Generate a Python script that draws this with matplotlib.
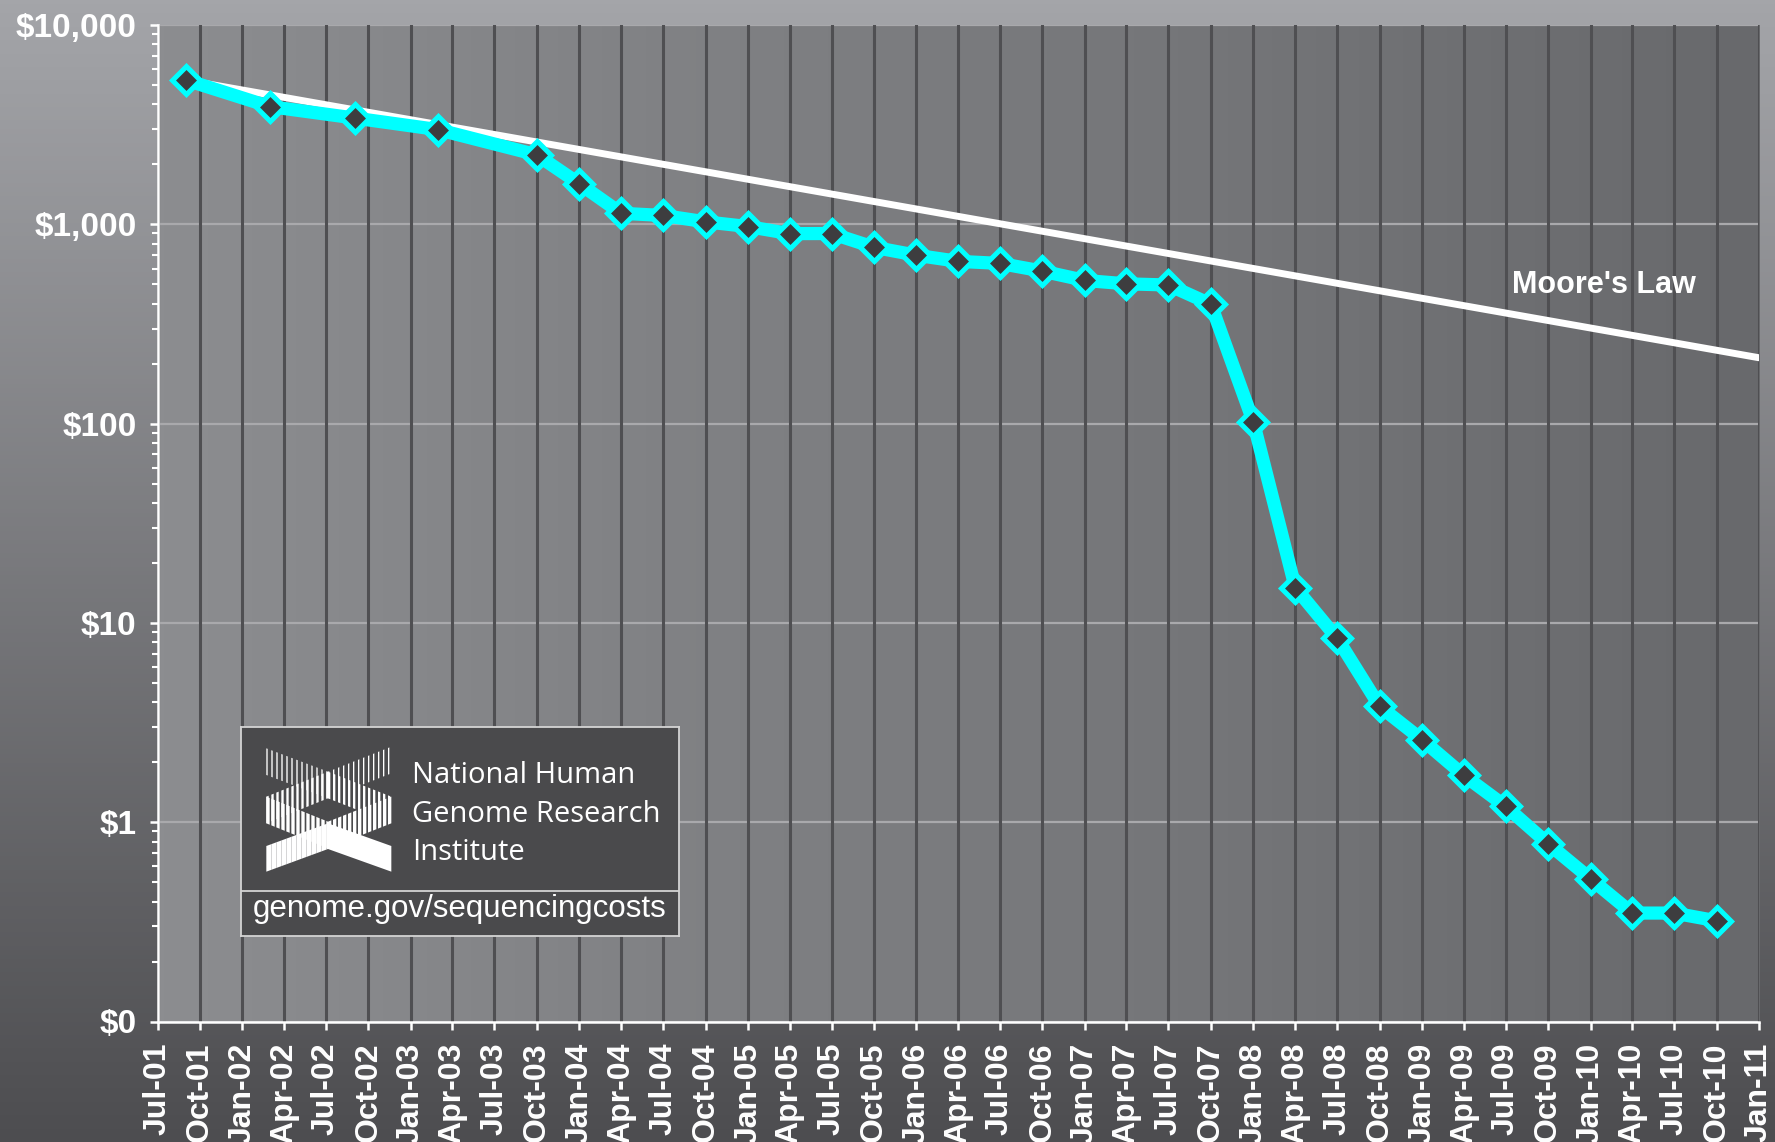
import matplotlib
matplotlib.use('Agg')
import matplotlib.pyplot as plt
import matplotlib.dates as mdates
from matplotlib.colors import LinearSegmentedColormap
from matplotlib.patches import Polygon
from matplotlib.ticker import FixedLocator, FixedFormatter, LogLocator, NullFormatter
import numpy as np
import pandas as pd

plt.rcParams['font.family'] = ['Liberation Sans', 'DejaVu Sans']
plt.rcParams['font.weight'] = 'bold'

# cost per megabase of DNA sequence (USD)
dates = pd.to_datetime([
    '2001-09-01', '2002-03-01', '2002-09-01', '2003-03-01', '2003-10-01',
    '2004-01-01', '2004-04-01', '2004-07-01', '2004-10-01',
    '2005-01-01', '2005-04-01', '2005-07-01', '2005-10-01',
    '2006-01-01', '2006-04-01', '2006-07-01', '2006-10-01',
    '2007-01-01', '2007-04-01', '2007-07-01', '2007-10-01',
    '2008-01-01', '2008-04-01', '2008-07-01', '2008-10-01',
    '2009-01-01', '2009-04-01', '2009-07-01', '2009-10-01',
    '2010-01-01', '2010-04-01', '2010-07-01', '2010-10-01',
])
cost = [5292.39, 3898.64, 3413.80, 2986.20, 2230.98,
        1598.91, 1135.70, 1107.46, 1028.85,
        974.16, 897.76, 898.90, 766.73,
        699.20, 651.81, 636.41, 581.92,
        522.71, 502.61, 495.96, 397.09,
        102.13, 15.03, 8.36, 3.81,
        2.59, 1.72, 1.20, 0.78,
        0.52, 0.35, 0.35, 0.32]

# Moore's law reference line (start and end)
moore_dates = pd.to_datetime(['2001-09-01', '2011-01-01'])
moore_cost = [5292.39, 214]

y_ticks = [0.1, 1, 10, 100, 1000, 10000]
y_labels = ['$0', '$1', '$10', '$100', '$1,000', '$10,000']

W, H = 1775, 1142
CYAN = '#00ffff'


def px_box(x0, y0, x1, y1):
    # pixel box (top-left origin) -> figure fraction rect
    return [x0 / W, 1 - y1 / H, (x1 - x0) / W, (y1 - y0) / H]


def main():
    fig = plt.figure(figsize=(W / 100, H / 100), dpi=100)

    # figure background gradient (top light -> bottom dark)
    bg = fig.add_axes([0, 0, 1, 1], zorder=-10)
    cm_bg = LinearSegmentedColormap.from_list('bg', ['#a4a5a9', '#4d4d50'])
    bg.imshow(np.linspace(0, 1, 256).reshape(-1, 1), cmap=cm_bg, aspect='auto',
              extent=[0, 1, 0, 1])
    bg.axis('off')

    rect = px_box(157.5, 25, 1759, 1021.5)

    # plot area gradient (left light -> right dark)
    pbg = fig.add_axes(rect, zorder=-5)
    cm_p = LinearSegmentedColormap.from_list('pa', ['#8c8d90', '#68696c'])
    pbg.imshow(np.linspace(0, 1, 256).reshape(1, -1), cmap=cm_p, aspect='auto',
               extent=[0, 1, 0, 1])
    pbg.axis('off')

    ax = fig.add_axes(rect, zorder=1)
    ax.set_facecolor('none')
    draw_chart(ax)

    lax = fig.add_axes(px_box(241, 727, 679, 936), zorder=5)
    draw_logo(lax)

    fig.savefig('out.png', dpi=100)


def draw_chart(ax):
    ax.plot(moore_dates, moore_cost, color='white', lw=5,
            solid_capstyle='round', zorder=3)
    ax.plot(dates, cost, color=CYAN, lw=9.5, solid_joinstyle='round',
            solid_capstyle='round', marker='D', ms=14, mfc='#3d3d3f',
            mec=CYAN, mew=3.6, zorder=4)

    ax.set_yscale('log')
    ax.set_ylim(0.1, 10000)
    ax.yaxis.set_major_locator(FixedLocator(y_ticks))
    ax.yaxis.set_major_formatter(FixedFormatter(y_labels))
    ax.yaxis.set_minor_locator(LogLocator(base=10, subs=np.arange(2, 10)))
    ax.yaxis.set_minor_formatter(NullFormatter())

    ax.set_xlim(pd.Timestamp('2001-07-01'), pd.Timestamp('2011-01-01'))
    ax.xaxis.set_major_locator(mdates.MonthLocator(bymonth=[1, 4, 7, 10]))
    ax.xaxis.set_major_formatter(mdates.DateFormatter('%b-%y'))

    ax.set_axisbelow(True)
    ax.yaxis.set_zorder(0.4)  # vertical grid drawn over horizontal grid
    ax.grid(axis='y', which='major', color='#a9a9ac', lw=1.6)
    ax.grid(axis='x', which='major', color='#4f4f52', lw=2.2)

    for s in ['top', 'right']:
        ax.spines[s].set_visible(False)
    for s in ['left', 'bottom']:
        ax.spines[s].set_color('white')
        ax.spines[s].set_linewidth(1.8)

    ax.tick_params(which='major', direction='out', color='white', width=1.8,
                   length=6, labelcolor='white')
    ax.tick_params(axis='y', which='minor', direction='out', color='white',
                   width=1.5, length=4.3)
    ax.tick_params(axis='y', pad=9, labelsize=24)
    ax.tick_params(axis='x', pad=9, labelsize=23, labelrotation=90)

    ax.text(0.903, 0.731, "Moore's Law", transform=ax.transAxes, ha='center',
            va='baseline', color='white', fontsize=22, fontweight='bold')


def stripes(ax, xl, xr, ytl, ytr, h, step, w):
    # vertical white bars inside a slanted band (zoom units of the logo)
    def to_px(X, Y):
        return 258 + X / 3, 740 + Y / 3

    def top(x):
        return ytl + (ytr - ytl) * (x - xl) / (xr - xl)

    for xs in np.arange(xl, xr, step):
        xe = min(xs + w, xr)
        pts = [to_px(xs, top(xs)), to_px(xe, top(xe)),
               to_px(xe, top(xe) + h), to_px(xs, top(xs) + h)]
        ax.add_patch(Polygon(pts, closed=True, fc='white', lw=0))


def draw_logo(ax):
    ax.set_xlim(241, 679)
    ax.set_ylim(936, 727)
    ax.set_facecolor('#4a4a4c')
    ax.set_xticks([])
    ax.set_yticks([])
    for s in ax.spines.values():
        s.set_color('#d4d4d4')
        s.set_linewidth(1.3)
    ax.axhline(891, color='#d4d4d4', lw=1.3)

    # X shaped logo made of striped bands
    stripes(ax, 25, 210, 25, 95, 80, 15, 4)
    stripes(ax, 210, 400, 95, 20, 80, 15, 4)
    stripes(ax, 25, 210, 170, 95, 80, 15, 7)
    stripes(ax, 210, 400, 95, 170, 80, 15, 7)
    stripes(ax, 25, 210, 170, 245, 80, 15, 10)
    stripes(ax, 210, 400, 245, 170, 80, 15, 10)
    stripes(ax, 25, 210, 318, 250, 77, 15, 15)
    stripes(ax, 210, 400, 250, 318, 77, 15, 15)

    name_font = ['Open Sans', 'DejaVu Sans']
    for txt, yb in [('National Human', 783), ('Genome Research', 822.5),
                    ('Institute', 860)]:
        ax.text(412, yb, txt, family=name_font, fontweight='normal',
                fontsize=21, color='white', va='baseline', ha='left')
    ax.text(460, 916.7, 'genome.gov/sequencingcosts', fontweight='normal',
            fontsize=22.5, color='white', va='baseline', ha='center')


if __name__ == '__main__':
    main()
